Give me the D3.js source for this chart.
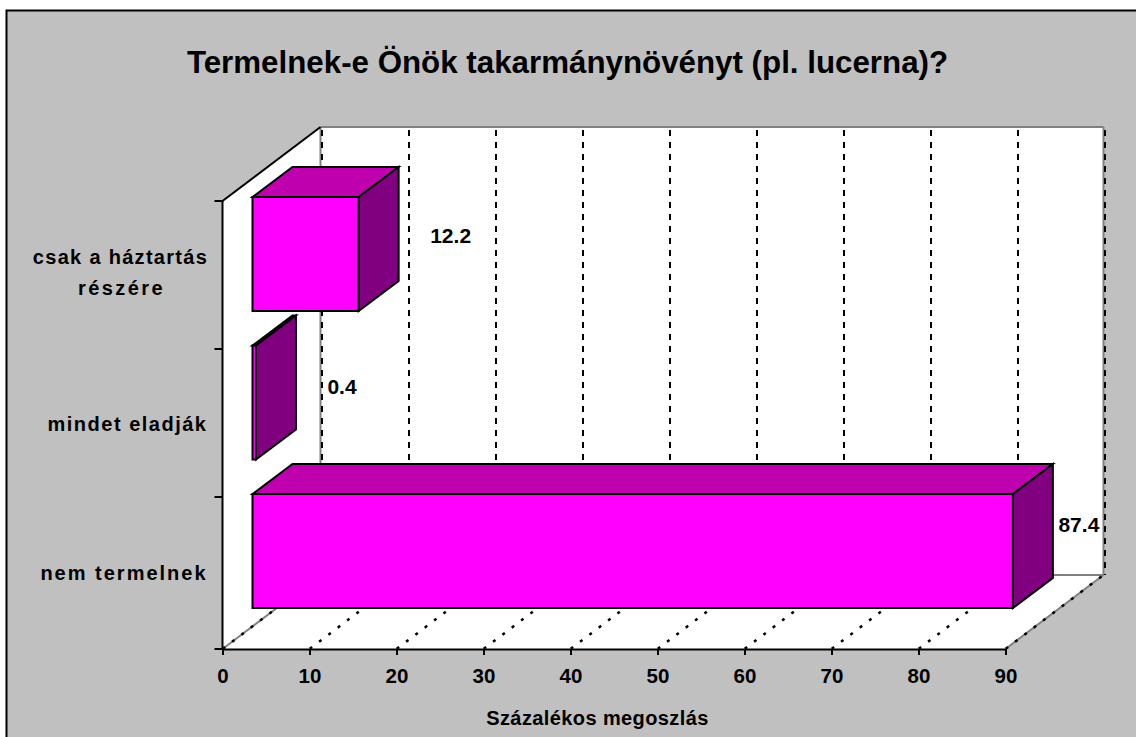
<!DOCTYPE html>
<html><head><meta charset="utf-8">
<script src="https://cdn.jsdelivr.net/npm/d3@7"></script>
<style>html,body{margin:0;padding:0;background:#fff;overflow:hidden}svg{display:block}text{font-family:"Liberation Sans",Arial,sans-serif;font-weight:bold;fill:#000}</style>
</head><body><svg id="c" width="1136" height="737"></svg>
<script>
const titleText = "Termelnek-e Önök takarmánynövényt (pl. lucerna)?";
const axisTitle = "Százalékos megoszlás";
const categories = ["nem termelnek","mindet eladják","csak a háztartás részére"];
const categoryLines = [["nem termelnek"],["mindet eladják"],["csak a háztartás","részére"]];
const values = [87.4,0.4,12.2];
const valueLabels = ["87.4","0.4","12.2"];
const xTicks = [0,10,20,30,40,50,60,70,80,90];

const svg = d3.select("#c");
const x = d3.scaleLinear().domain([0,90]).range([222.5,1005.5]);
const yBar = d3.scaleBand().domain(categories).range([625.5,180]);
const depth = {dx:98,dy:-74}, barDepth={dx:40,dy:-30}, barInset=30, barH=114;
const yTop=201,yBot=649;
const poly=(pts,fill,stroke,sw)=>svg.append("polygon").attr("points",pts.map(p=>p.join(",")).join(" ")).attr("fill",fill).attr("stroke",stroke||"none").attr("stroke-width",sw||0).attr("stroke-linejoin","miter");
const line=(a,b,stroke,sw)=>svg.append("line").attr("x1",a[0]).attr("y1",a[1]).attr("x2",b[0]).attr("y2",b[1]).attr("stroke",stroke).attr("stroke-width",sw);

svg.append("rect").attr("x",6.5).attr("y",10.5).attr("width",1160).attr("height",760).attr("fill","#c0c0c0").attr("stroke","#000").attr("stroke-width",2);

const x0=x(0),x9=x(90);
// walls
poly([[x0+depth.dx,yTop+depth.dy],[x9+depth.dx,yTop+depth.dy],[x9+depth.dx,yBot+depth.dy],[x0+depth.dx,yBot+depth.dy]],"#fff");
poly([[x0,yTop],[x0+depth.dx,yTop+depth.dy],[x0+depth.dx,yBot+depth.dy],[x0,yBot]],"#fff");
poly([[x0,yBot],[x9,yBot],[x9+depth.dx,yBot+depth.dy],[x0+depth.dx,yBot+depth.dy]],"#fff");
// wall edges
const G="#808080";
line([x0+depth.dx,yTop+depth.dy],[x9+depth.dx,yTop+depth.dy],G,2);
line([x9+depth.dx,yTop+depth.dy],[x9+depth.dx,yBot+depth.dy],G,2);
line([x0+depth.dx,yTop+depth.dy],[x0+depth.dx,yBot+depth.dy],G,2);
line([x0+depth.dx,yBot+depth.dy],[x9+depth.dx,yBot+depth.dy],G,2);
line([x0,yBot],[x0+depth.dx,yBot+depth.dy],G,2);
line([x9,yBot],[x9+depth.dx,yBot+depth.dy],G,2);
// grids
svg.append("g").selectAll("line").data(xTicks).join("line")
 .attr("x1",d=>x(d)+depth.dx+1.5).attr("x2",d=>x(d)+depth.dx+1.5)
 .attr("y1",yTop+depth.dy+3).attr("y2",yBot+depth.dy)
 .attr("stroke","#000").attr("stroke-width",2).attr("stroke-dasharray","6 6");
svg.append("g").selectAll("line").data(xTicks).join("line")
 .attr("x1",d=>x(d)).attr("x2",d=>x(d)+depth.dx)
 .attr("y1",yBot).attr("y2",yBot+depth.dy)
 .attr("stroke","#000").attr("stroke-width",2.5).attr("stroke-dasharray","3 8.7").attr("stroke-dashoffset",-12);
// top edge of side wall
line([x0,yTop],[x0+depth.dx,yTop+depth.dy],"#000",2);

// bars
categories.forEach((c,i)=>{
  const v=values[i], bx0=x0+barInset, bx1=bx0+(x(v)-x0), by=yBar(c)+17, h=barH, dx=barDepth.dx, dy=barDepth.dy;
  poly([[bx0,by],[bx0+dx,by+dy],[bx1+dx,by+dy],[bx1,by]],"#bf00af","#000",2);
  poly([[bx1,by],[bx1+dx,by+dy],[bx1+dx,by+dy+h],[bx1,by+h]],"#800080","#000",2);
  poly([[bx0,by],[bx1,by],[bx1,by+h],[bx0,by+h]],"#ff00ff","#000",2);
});
// value labels
svg.append("g").selectAll("text").data(valueLabels).join("text")
 .attr("x",(d,i)=>x0+barInset+(x(values[i])-x0)+barDepth.dx+[26,46,52][i])
 .attr("y",(d,i)=>yBar(categories[i])+[55,65.5,63][i])
 .attr("text-anchor","middle").attr("font-size",21).text(d=>d);

// axes
const ax=svg.append("g").attr("transform",`translate(0,${yBot})`).call(d3.axisBottom(x).tickValues(xTicks).tickSize(6).tickSizeOuter(0).tickFormat(d3.format("d")));
ax.select(".domain").attr("stroke","#000").attr("stroke-width",2);
ax.selectAll(".tick line").attr("stroke","#000").attr("stroke-width",2);
ax.selectAll("text").attr("font-size",20.5).attr("font-family",null).attr("y",34).attr("dy",0);
line([x0,yTop],[x0,yBot],"#000",2);
const yTickVals=[649,497,349,201];
svg.append("g").selectAll("line").data(yTickVals).join("line").attr("x1",x0-8).attr("x2",x0).attr("y1",d=>d).attr("y2",d=>d).attr("stroke","#000").attr("stroke-width",2);
// category labels
const catY=[[580],[431],[264,295]];
const catX=[[124],[127.5],[120.5,121.5]];
const catSpacing=[[2],[1.5],[1.3,2.4]];
categoryLines.forEach((ls,i)=>ls.forEach((t,j)=>{
  svg.append("text").attr("x",catX[i][j]).attr("y",catY[i][j]).attr("text-anchor","middle").attr("font-size",20).attr("letter-spacing",catSpacing[i][j]).text(t);
}));
// titles
svg.append("text").attr("x",567.5).attr("y",73).attr("text-anchor","middle").attr("font-size",31.3).text(titleText);
svg.append("text").attr("x",597.5).attr("y",725).attr("text-anchor","middle").attr("font-size",20).attr("letter-spacing",0.4).text(axisTitle);
</script></body></html>
